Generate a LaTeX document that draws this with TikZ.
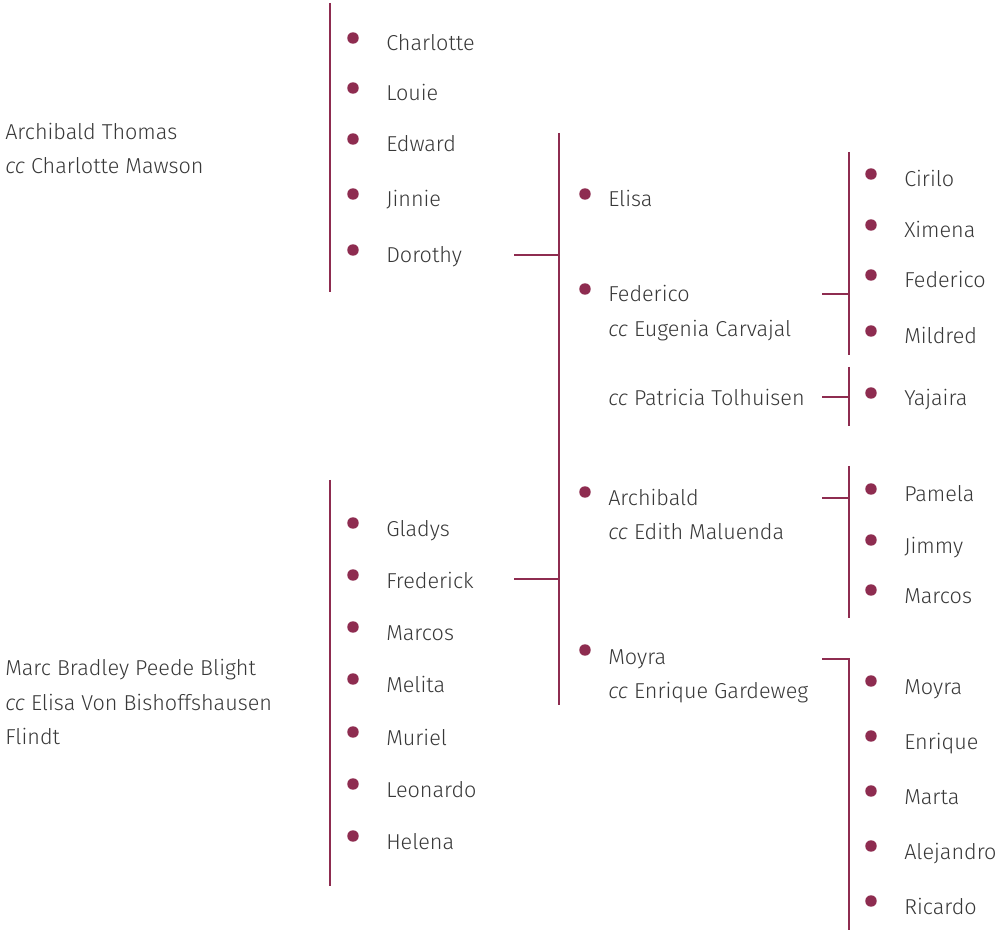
\documentclass[tikz,border=0pt]{standalone}
\usepackage{fontspec}
\setmainfont{Fira Sans Light}[ItalicFont={Fira Sans Light Italic}]
\usepackage{tikz}
\usetikzlibrary{positioning}

\definecolor{wine}{HTML}{8E2C50}
\definecolor{ink}{HTML}{383838}

\begin{document}
\begin{tikzpicture}[x=0.75pt, y=-0.75pt, bar/.style={wine, line width=1.8pt}, dot/.style={circle, fill=wine, inner sep=0pt, minimum size=8.6pt}, person/.style={anchor=base west, inner sep=0pt, text=ink, font=\fontsize{16.2}{19}\selectfont}]
\useasboundingbox (0,0) rectangle (1007,930);
% parents
\node [person] (p1a) at (5,140) {Archibald Thomas};
\node [person] (p1b) at (5,174) {\textit{cc} Charlotte Mawson};
\node [person] (p2a) at (5,675) {Marc Bradley Peede Blight};
\node [person] (p2b) at (5,710) {\textit{cc} Elisa Von Bishoffshausen};
\node [person] (p2c) at (5,744) {Flindt};
% first family
\coordinate (b1top) at (330,3);
\coordinate (b1bot) at (330,292);
\draw [bar] (b1top) -- (b1bot);
\foreach \i/\y/\n in {1/43/Charlotte, 2/93/Louie, 3/144/Edward, 4/199/Jinnie, 5/255/Dorothy} {
  \node [dot] (d1\i) at (353,\y-5) {};
  \node [person] (c1\i) at (386,\y+8) {\n};
}
% second family
\coordinate (b3top) at (330,480);
\coordinate (b3bot) at (330,886);
\draw [bar] (b3top) -- (b3bot);
\foreach \i/\y/\n in {1/528/Gladys, 2/580/Frederick, 3/632/Marcos, 4/684/Melita, 5/737/Muriel, 6/789/Leonardo, 7/841/Helena} {
  \node [dot] (d3\i) at (353,\y-5) {};
  \node [person] (c3\i) at (386,\y+8) {\n};
}
% marriage of Dorothy and Frederick
\coordinate (b2top) at (559,133);
\coordinate (b2bot) at (559,705);
\coordinate (j1) at (559,255);
\coordinate (j2) at (559,579);
\draw [bar] (b2top) -- (b2bot);
\draw [bar] (514,255) coordinate (s1) -- (j1);
\draw [bar] (514,579) coordinate (s2) -- (j2);
\node [dot] (m1) at (585,194) {};
\node [person] (e1) at (608,207) {Elisa};
\node [dot] (m2) at (585,289) {};
\node [person] (e2) at (608,302) {Federico};
\node [person] (e2b) at (608,337) {\textit{cc} Eugenia Carvajal};
\node [person] (e2c) at (608,406) {\textit{cc} Patricia Tolhuisen};
\node [dot] (m3) at (585,492) {};
\node [person] (e3) at (608,505) {Archibald};
\node [person] (e3b) at (608,539) {\textit{cc} Edith Maluenda};
\node [dot] (m4) at (585,650) {};
\node [person] (e4) at (608,664) {Moyra};
\node [person] (e4b) at (608,698) {\textit{cc} Enrique Gardeweg};
% grandchildren
\coordinate (g1top) at (849,152);
\coordinate (g1bot) at (849,355);
\draw [bar] (g1top) -- (g1bot);
\draw [bar] (822,294) coordinate (t1) -- (849,294);
\foreach \i/\y/\n in {1/179/Cirilo, 2/230/Ximena, 3/280/Federico, 4/336/Mildred} {
  \node [dot] (f1\i) at (871,\y-5) {};
  \node [person] (h1\i) at (904,\y+8) {\n};
}
\coordinate (g2top) at (849,367);
\coordinate (g2bot) at (849,426);
\draw [bar] (g2top) -- (g2bot);
\draw [bar] (822,397) coordinate (t2) -- (849,397);
\node [dot] (f21) at (871,393) {};
\node [person] (h21) at (904,406) {Yajaira};
\coordinate (g3top) at (849,466);
\coordinate (g3bot) at (849,618);
\draw [bar] (g3top) -- (g3bot);
\draw [bar] (822,498) coordinate (t3) -- (849,498);
\foreach \i/\y/\n in {1/494/Pamela, 2/545/Jimmy, 3/595/Marcos} {
  \node [dot] (f3\i) at (871,\y-5) {};
  \node [person] (h3\i) at (904,\y+8) {\n};
}
\coordinate (t4) at (822,659);
\coordinate (g4top) at (849,659);
\coordinate (g4bot) at (849,930);
\draw [bar] (t4) -- (g4top) -- (g4bot);
\foreach \i/\y/\n in {1/686/Moyra, 2/741/Enrique, 3/796/Marta, 4/851/Alejandro, 5/906/Ricardo} {
  \node [dot] (f4\i) at (871,\y-5) {};
  \node [person] (h4\i) at (904,\y+8) {\n};
}
\end{tikzpicture}
\end{document}
